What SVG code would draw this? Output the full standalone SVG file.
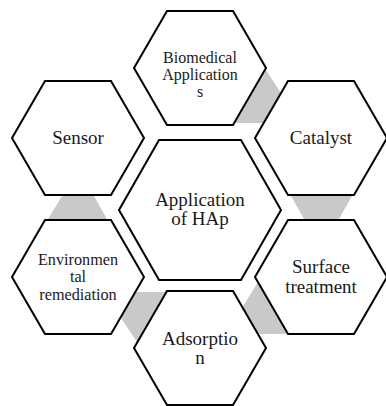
<svg xmlns="http://www.w3.org/2000/svg" width="386" height="406" viewBox="0 0 386 406">
<style>
.hex{fill:#ffffff;stroke:#000000;stroke-width:2;stroke-linejoin:miter}
.link{fill:#c9c9c9;stroke:none}
.t{font-family:"Liberation Serif","Times New Roman",serif;font-size:19px;fill:#1a1a1a;text-anchor:middle}
.s{font-size:16.2px}
.b{font-size:16px}
</style>
<rect width="386" height="406" fill="#ffffff"/>
<g id="connectors">
<polygon class="link" points="266,70 281,93 264,123 235,123"/>
<polygon class="link" points="62,196 94,196 107,219 48,219"/>
<polygon class="link" points="291,196 352,196 339,219 304,219"/>
<polygon class="link" points="136,292 166,292 137,342 121,318"/>
<polygon class="link" points="258,282 288,334 258,334 242,308"/>
</g>
<g id="center">
<polygon class="hex" points="119,210 159,140 241,140 281,210 241,280 159,280"/>
<text class="t" x="200" y="206">Application</text>
<text class="t" x="200" y="225">of HAp</text>
</g>
<g id="biomedical">
<polygon class="hex" points="134,68 167,11 233,11 266,68 233,125 167,125"/>
<text class="t b" x="200" y="63">Biomedical</text>
<text class="t b" x="200" y="80">Application</text>
<text class="t b" x="200" y="97">s</text>
</g>
<g id="sensor">
<polygon class="hex" points="12,138 45,81 111,81 144,138 111,195 45,195"/>
<text class="t" x="78" y="144">Sensor</text>
</g>
<g id="catalyst">
<polygon class="hex" points="255,138 288,81 354,81 387,138 354,195 288,195"/>
<text class="t" x="321" y="144">Catalyst</text>
</g>
<g id="environmental">
<polygon class="hex" points="12,277 45,220 111,220 144,277 111,334 45,334"/>
<text class="t s" x="78" y="264.5">Environmen</text>
<text class="t s" x="78" y="282">tal</text>
<text class="t s" x="78" y="299.5">remediation</text>
</g>
<g id="surface">
<polygon class="hex" points="255,277 288,220 354,220 387,277 354,334 288,334"/>
<text class="t" x="321" y="273">Surface</text>
<text class="t" x="321" y="293">treatment</text>
</g>
<g id="adsorption">
<polygon class="hex" points="134,348 167,291 233,291 266,348 233,405 167,405"/>
<text class="t" x="200" y="345">Adsorptio</text>
<text class="t" x="200" y="364">n</text>
</g>
</svg>
